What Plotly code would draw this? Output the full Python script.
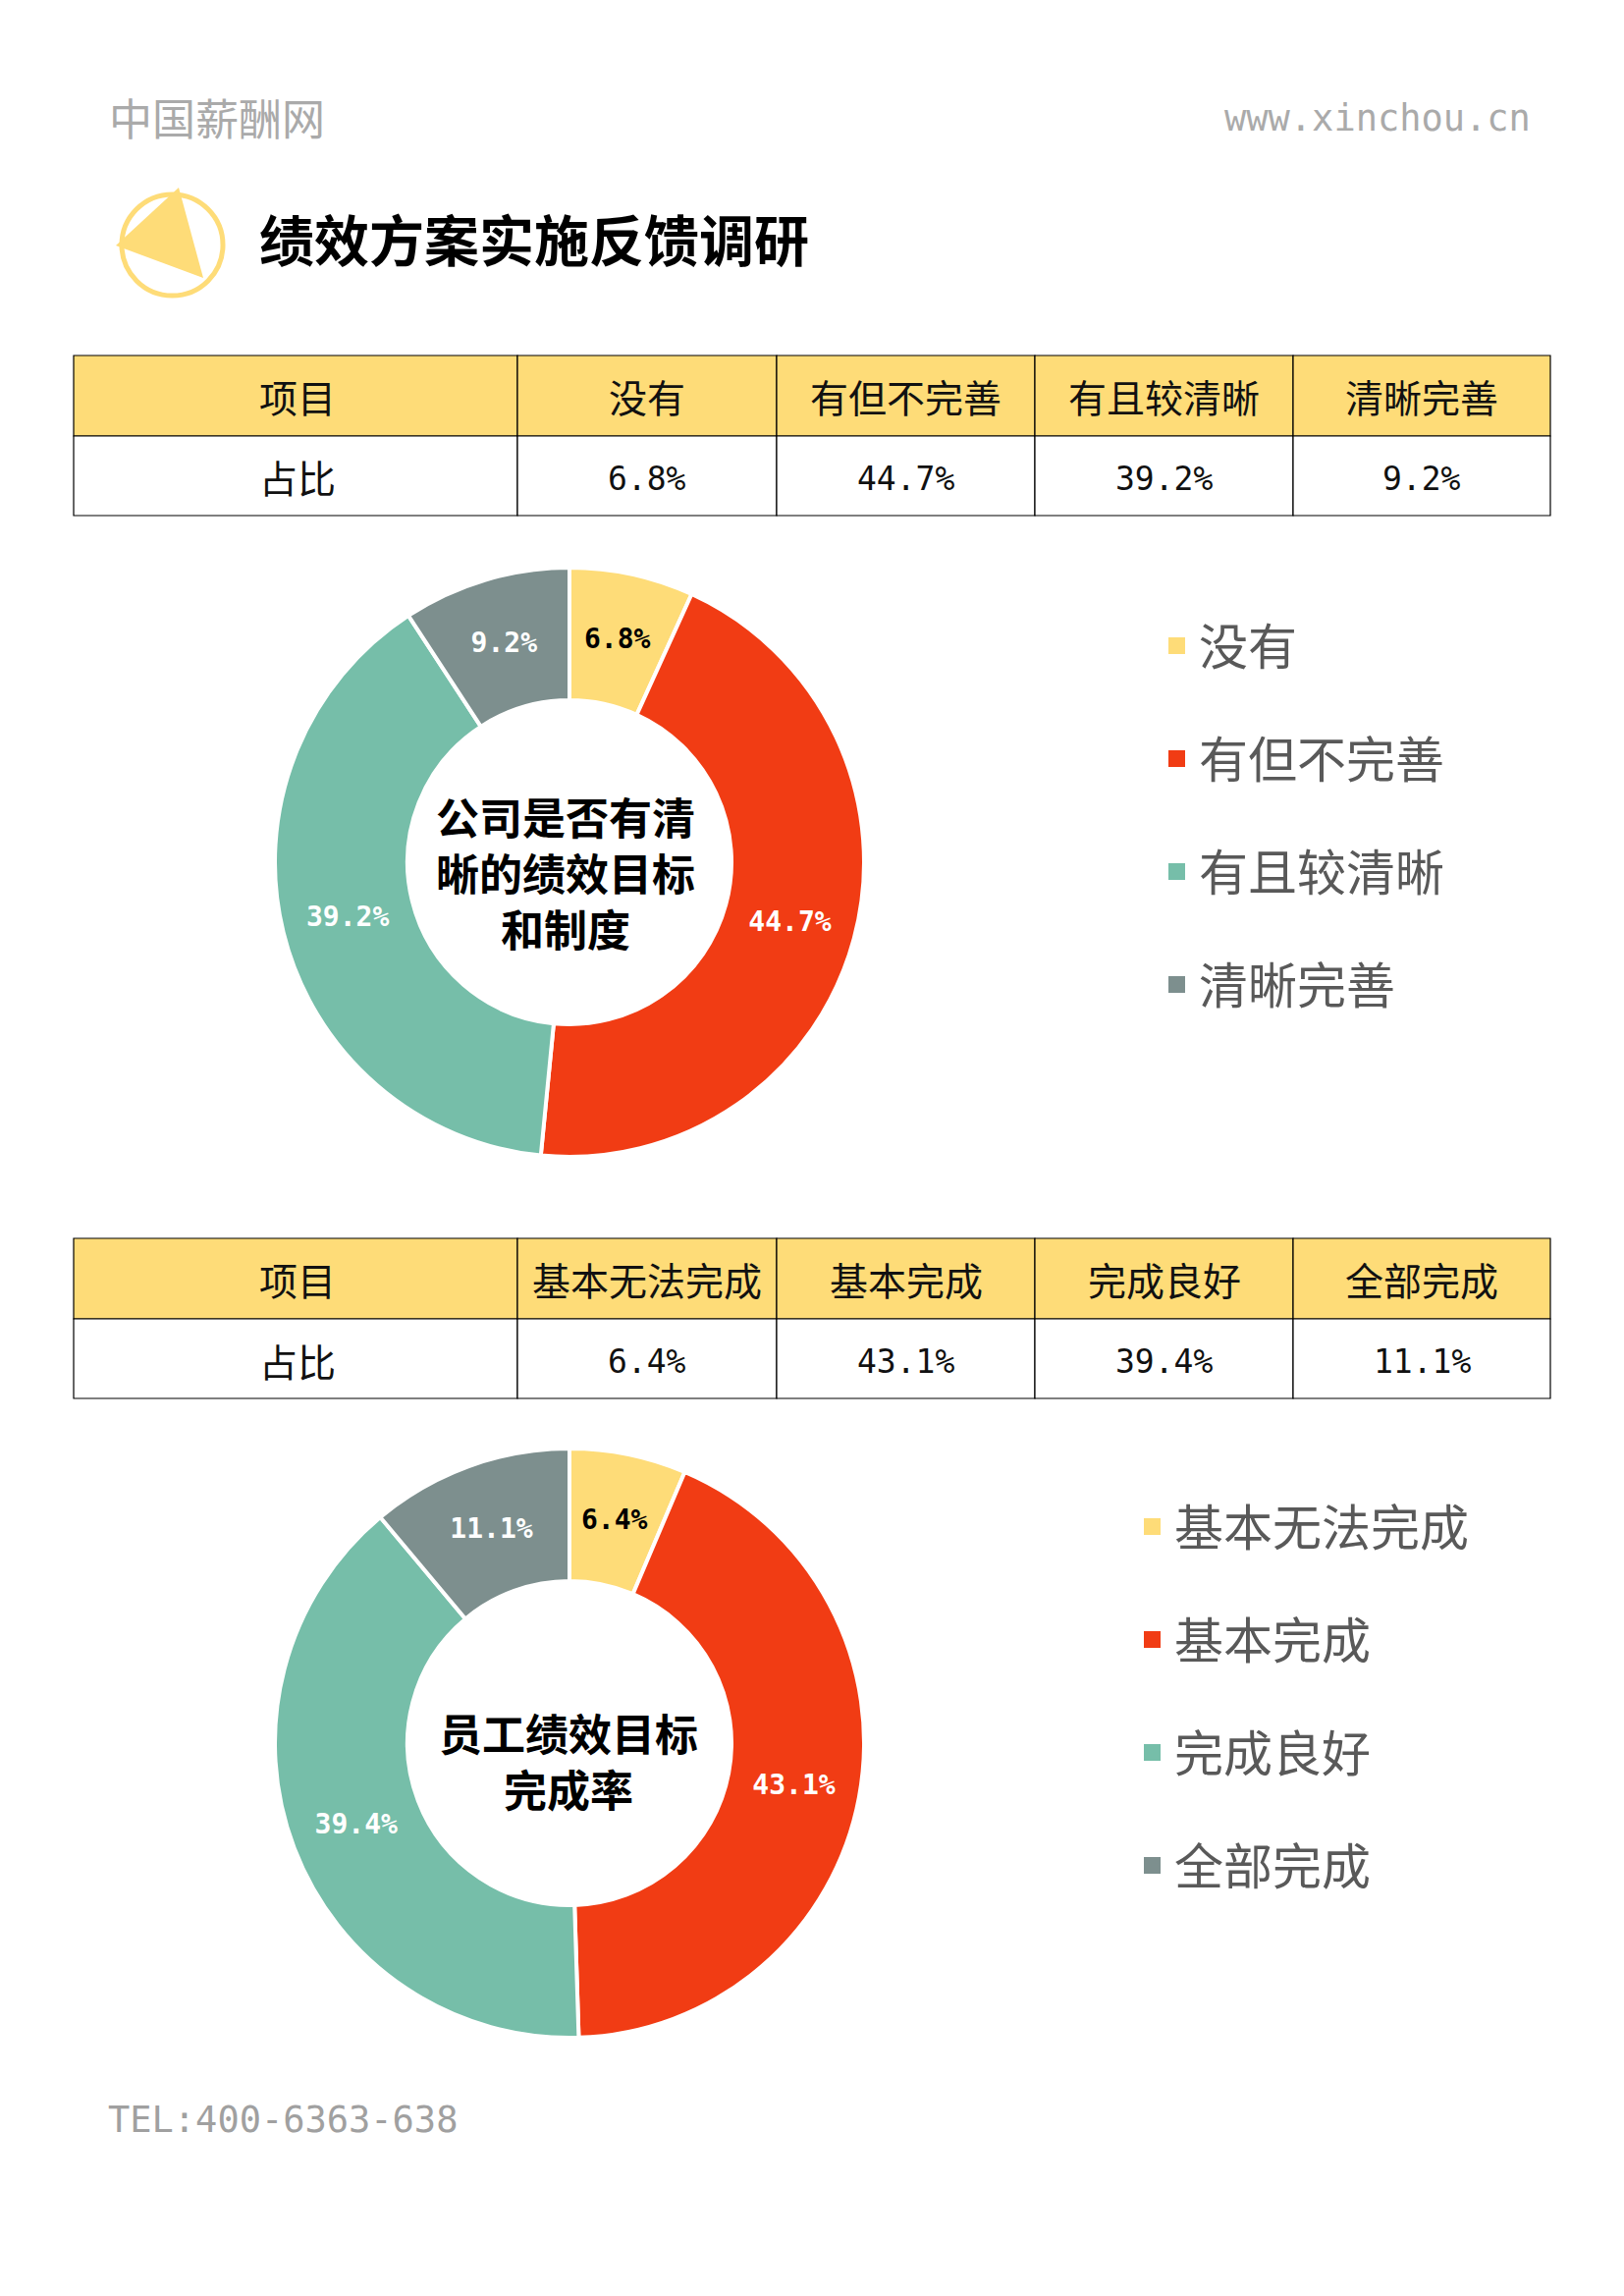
import math
import plotly.graph_objects as go

W, H = 1654, 2338

# ---- data ----
row_head = "项目"
row_name = "占比"
cats_a = ["没有", "有但不完善", "有且较清晰", "清晰完善"]
vals_a = [6.8, 44.7, 39.2, 9.2]
cats_b = ["基本无法完成", "基本完成", "完成良好", "全部完成"]
vals_b = [6.4, 43.1, 39.4, 11.1]
center_a = "公司是否有清<br>晰的绩效目标<br>和制度"
center_b = "员工绩效目标<br>完成率"
title = "绩效方案实施反馈调研"
brand = "中国薪酬网"
site = "www.xinchou.cn"
tel = "TEL:400-6363-638"

# ---- style ----
colors = ["#FEDC78", "#F13C14", "#76BEA9", "#7D8F8E"]
label_colors = ["#000000", "#FFFFFF", "#FFFFFF", "#FFFFFF"]
CJK = "Noto Sans CJK SC"
MONO = "DejaVu Sans Mono"
col_edges = [75, 527, 791, 1054, 1317, 1579]
HOLE = 0.55
R = 300


def X(px):
    return px / W


def Y(py):
    return 1 - py / H


fig = go.Figure()


def text(x, y, s, family, size, color, weight="normal", xanchor="center", align="center"):
    fig.add_annotation(x=X(x), y=Y(y), xref="paper", yref="paper", text=s, showarrow=False,
                       xanchor=xanchor, yanchor="middle", align=align,
                       font=dict(family=family, size=size, color=color, weight=weight))


def rect(x0, y0, x1, y1, fill, line=None, lw=0):
    fig.add_shape(type="rect", xref="paper", yref="paper", x0=X(x0), x1=X(x1), y0=Y(y1), y1=Y(y0),
                  fillcolor=fill, line=dict(color=line, width=lw) if line else dict(width=0))


def add_table(cats, vals, y0, y1, y2):
    heads = [row_head] + cats
    cells = [row_name] + [f"{v}%" for v in vals]
    for i in range(5):
        a, b = col_edges[i], col_edges[i + 1]
        mid = (a + b) / 2 + (2 if i == 0 else 0)
        rect(a, y0, b, y1, "#FEDC78", "#000000", 1.2)
        rect(a, y1, b, y2, "#FFFFFF", "#000000", 1.2)
        text(mid, (y0 + y1) / 2, heads[i], CJK, 39, "#111111")
        text(mid, (y1 + y2) / 2 + (1 if i == 0 else 3), cells[i],
             MONO if i else CJK, 33 if i else 39, "#111111")


def add_donut(cats, vals, top, cx, label, tx, ty, legend_x):
    labels = [f"{v}%" for v in vals]
    # the narrow first slice gets its label centred on the ring, where Plotly would push it outward
    fig.add_trace(go.Pie(
        labels=cats, values=vals, sort=False, direction="clockwise", rotation=0,
        hole=HOLE, showlegend=False,
        domain=dict(x=[X(cx - R), X(cx + R)], y=[Y(top + 2 * R), Y(top)]),
        marker=dict(colors=colors, line=dict(color="#FFFFFF", width=4)),
        text=[""] + labels[1:], textinfo="text", textposition="inside",
        insidetextorientation="horizontal",
        insidetextfont=dict(family=MONO, size=28, color=label_colors, weight="bold"),
    ))
    cy = top + R
    ang = math.pi * vals[0] / sum(vals)
    rm = R * (1 + HOLE) / 2
    text(cx + rm * math.sin(ang), cy - rm * math.cos(ang), labels[0], MONO, 28, label_colors[0], "bold")
    text(tx, ty, label, CJK, 44, "#000000", "bold")
    for i, (c, col) in enumerate(zip(cats, colors)):
        ly = top + 80 + i * 115
        rect(legend_x, ly - 9, legend_x + 17, ly + 8, col)
        text(legend_x + 29, ly - 3, c, CJK, 50, "#595959", xanchor="left", align="left")


add_table(cats_a, vals_a, 362, 444, 525)
add_donut(cats_a, vals_a, 578, 580, center_a, 576, 888, 1190)
add_table(cats_b, vals_b, 1261, 1343, 1424)
add_donut(cats_b, vals_b, 1475, 580, center_b, 579, 1792, 1165)

text(109, 119, brand, CJK, 44, "#AAAAAA", xanchor="left", align="left")
text(1245, 121, site, MONO, 37, "#AAAAAA", xanchor="left", align="left")
text(262, 241, title, CJK, 56, "#000000", "bold", xanchor="left", align="left")
text(108, 2158, tel, MONO, 37, "#A0A0A0", xanchor="left", align="left")

# icon
fig.add_shape(type="circle", xref="paper", yref="paper",
              x0=X(124), x1=X(227), y0=Y(301), y1=Y(198),
              line=dict(color="#FEDC78", width=5), fillcolor="rgba(0,0,0,0)")
tri = [(182, 191), (118, 250), (207, 283)]
fig.add_shape(type="path", xref="paper", yref="paper",
              path="M" + " L".join(f"{X(p[0]):.5f},{Y(p[1]):.5f}" for p in tri) + " Z",
              fillcolor="#FEDC78", line_width=0)

fig.update_layout(width=W, height=H, margin=dict(l=0, r=0, t=0, b=0),
                  paper_bgcolor="#FFFFFF", plot_bgcolor="#FFFFFF")
fig.write_html("out.html", config=dict(displayModeBar=False),
               post_script="document.body.style.margin='0';document.body.style.overflow='hidden';")
